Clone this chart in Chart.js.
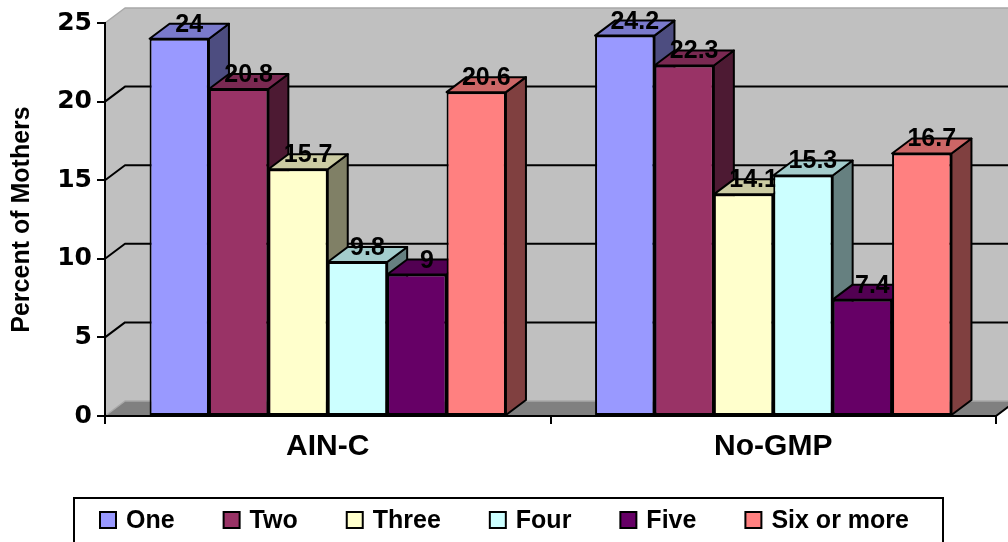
<!DOCTYPE html>
<html>
<head>
<meta charset="utf-8">
<script src="https://cdn.jsdelivr.net/npm/chart.js@4.4.0/dist/chart.umd.min.js"></script>
<style>
  html, body { margin: 0; padding: 0; background: #ffffff; }
  canvas { display: block; }
</style>
</head>
<body>
<canvas id="chart" width="1008" height="542"></canvas>
<script>
// Number of children per mother, by programme group
const categories = ['AIN-C', 'No-GMP'];
const seriesNames = ['One', 'Two', 'Three', 'Four', 'Five', 'Six or more'];
const one       = [24, 24.2];
const two       = [20.8, 22.3];
const three     = [15.7, 14.1];
const four      = [9.8, 15.3];
const five      = [9, 7.4];
const sixOrMore = [20.6, 16.7];
const yTicks    = [0, 5, 10, 15, 20, 25];

const seriesValues = [one, two, three, four, five, sixOrMore];
const faceColors = ['#9999FF', '#993366', '#FFFFCC', '#CCFFFF', '#660066', '#FF8080'];

// Depth offset of the extruded bars and walls (pixels)
const DX = 20, DY = 15;
const SANS = 'Arial, "Liberation Sans", sans-serif';

function shade(hex, f) {
  const n = parseInt(hex.slice(1), 16);
  const r = Math.round(((n >> 16) & 255) * f);
  const g = Math.round(((n >> 8) & 255) * f);
  const b = Math.round((n & 255) * f);
  return `rgb(${r},${g},${b})`;
}

function poly(ctx, pts, fill, stroke, lw) {
  ctx.beginPath();
  ctx.moveTo(pts[0][0], pts[0][1]);
  for (let i = 1; i < pts.length; i++) ctx.lineTo(pts[i][0], pts[i][1]);
  ctx.closePath();
  if (fill) { ctx.fillStyle = fill; ctx.fill(); }
  if (stroke) { ctx.strokeStyle = stroke; ctx.lineWidth = lw || 2; ctx.stroke(); }
}

const depthPlugin = {
  id: 'depth',
  beforeDraw(chart) {
    const { ctx, chartArea: a, scales: { y } } = chart;
    const L = a.left, R = a.right;
    const y0 = y.getPixelForValue(y.min);
    const yTop = y.getPixelForValue(y.max);
    ctx.save();
    ctx.fillStyle = '#ffffff';
    ctx.fillRect(0, 0, chart.width, chart.height);
    ctx.lineJoin = 'round';

    // side wall and back wall
    poly(ctx, [[L, yTop], [L + DX, yTop - DY], [L + DX, y0 - DY], [L, y0]], '#C0C0C0');
    poly(ctx, [[L + DX, yTop - DY], [R + DX + 40, yTop - DY], [R + DX + 40, y0 - DY], [L + DX, y0 - DY]], '#C0C0C0');
    // floor
    poly(ctx, [[L, y0], [R, y0], [R + DX, y0 - DY], [L + DX, y0 - DY]], '#808080');

    // light wall edges
    ctx.strokeStyle = '#A8A8A8';
    ctx.lineWidth = 1.5;
    ctx.beginPath();
    ctx.moveTo(L, yTop); ctx.lineTo(L + DX, yTop - DY); ctx.lineTo(R + DX + 40, yTop - DY);
    ctx.moveTo(L, y0); ctx.lineTo(L + DX, y0 - DY); ctx.lineTo(R + DX + 40, y0 - DY);
    ctx.stroke();

    // gridlines across side and back walls
    ctx.strokeStyle = '#000000';
    ctx.lineWidth = 2;
    ctx.beginPath();
    yTicks.forEach(v => {
      if (v <= y.min || v >= y.max) return;
      const py = y.getPixelForValue(v);
      ctx.moveTo(L, py); ctx.lineTo(L + DX, py - DY); ctx.lineTo(R + DX + 40, py - DY);
    });
    // right end of the floor
    ctx.moveTo(R, y0); ctx.lineTo(R + DX, y0 - DY);
    ctx.stroke();
    ctx.restore();
  },
  beforeDatasetsDraw(chart) {
    const ctx = chart.ctx;
    const nCat = chart.data.labels.length;
    ctx.save();
    ctx.lineJoin = 'round';
    for (let c = 0; c < nCat; c++) {
      chart.data.datasets.forEach((ds, d) => {
        const meta = chart.getDatasetMeta(d);
        if (meta.hidden) return;
        const bar = meta.data[c];
        const { x, y, width, base } = bar.getProps(['x', 'y', 'width', 'base'], true);
        const l = x - width / 2, r = x + width / 2;
        const col = ds.backgroundColor;
        poly(ctx, [[r, y], [r + DX, y - DY], [r + DX, base - DY], [r, base]], shade(col, 0.5), '#000', 2);
        poly(ctx, [[l, y], [r, y], [r + DX, y - DY], [l + DX, y - DY]], shade(col, 0.8), '#000', 2);
        bar.draw(ctx);
        ctx.fillStyle = '#000';
        ctx.font = `bold 25px ${SANS}`;
        ctx.textAlign = 'center';
        ctx.textBaseline = 'alphabetic';
        ctx.fillText(String(ds.data[c]), x + DX / 2, y - 7);
      });
    }
    ctx.restore();
    return false;
  },
  afterDraw(chart) {
    // boxed legend along the bottom
    const ctx = chart.ctx;
    ctx.save();
    ctx.strokeStyle = '#000';
    ctx.lineWidth = 2;
    ctx.strokeRect(74, 498, 869, 52);
    ctx.font = `bold 25px ${SANS}`;
    ctx.textBaseline = 'alphabetic';
    ctx.textAlign = 'left';
    let px = 100;
    chart.data.datasets.forEach(ds => {
      ctx.fillStyle = ds.backgroundColor;
      ctx.fillRect(px, 512, 16, 16);
      ctx.strokeStyle = '#000';
      ctx.lineWidth = 2;
      ctx.strokeRect(px, 512, 16, 16);
      ctx.fillStyle = '#000';
      ctx.fillText(ds.label, px + 26, 528);
      px += 26 + ctx.measureText(ds.label).width + 49;
    });
    ctx.restore();
  }
};

new Chart(document.getElementById('chart'), {
  type: 'bar',
  data: {
    labels: categories,
    datasets: seriesNames.map((name, i) => ({
      label: name,
      data: seriesValues[i],
      backgroundColor: faceColors[i],
      borderColor: '#000000',
      borderWidth: 2,
      borderSkipped: false,
      barPercentage: 1,
      categoryPercentage: 0.8
    }))
  },
  options: {
    responsive: false,
    devicePixelRatio: 1,
    animation: false,
    layout: { padding: { top: 23, right: 12, left: 0, bottom: 0 } },
    plugins: { legend: { display: false }, tooltip: { enabled: false } },
    scales: {
      x: {
        offset: true,
        grid: { offset: true, drawOnChartArea: false, drawTicks: true, tickLength: 8, color: '#000', lineWidth: 2 },
        border: { display: true, color: '#000', width: 2 },
        ticks: { color: '#000', padding: 5, font: { family: SANS, size: 30, weight: 'bold' } },
        afterFit(scale) { scale.height = 126; }
      },
      y: {
        min: 0,
        max: 25,
        afterBuildTicks(scale) { scale.ticks = yTicks.map(v => ({ value: v })); },
        grid: { drawOnChartArea: false, drawTicks: true, tickLength: 8, color: '#000', lineWidth: 2 },
        border: { display: true, color: '#000', width: 2 },
        ticks: { color: '#000', padding: 5, font: { family: '"DejaVu Sans", sans-serif', size: 25, weight: 'bold' } },
        title: {
          display: true,
          text: 'Percent of Mothers',
          color: '#000',
          padding: { top: 7, bottom: 0 },
          font: { family: SANS, size: 25, weight: 'bold' }
        },
        afterFit(scale) { scale.width = 105; }
      }
    }
  },
  plugins: [depthPlugin]
});
</script>
</body>
</html>
